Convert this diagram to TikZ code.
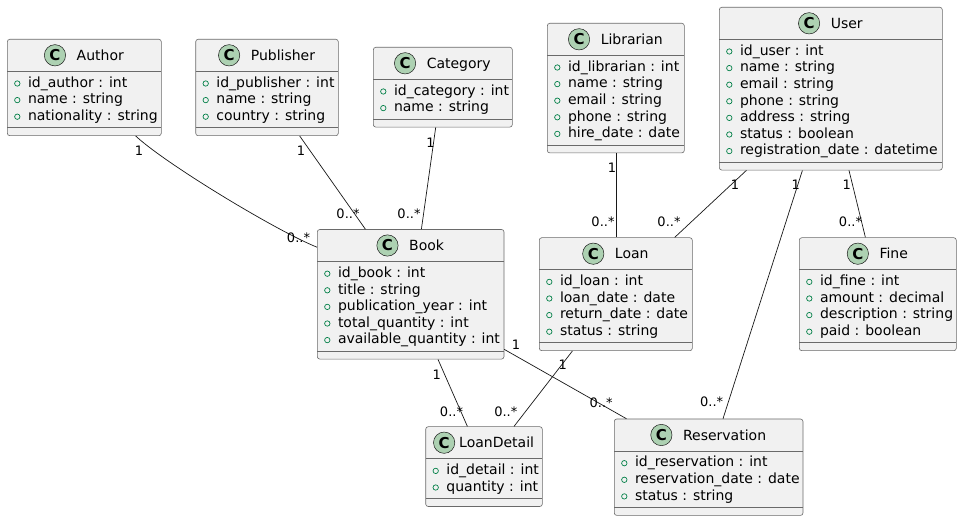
\documentclass[tikz,border=0pt]{standalone}
\usepackage{fontspec}
\setmainfont{DejaVu Sans}
\usetikzlibrary{positioning}
\definecolor{boxfill}{HTML}{F1F1F1}
\definecolor{boxline}{HTML}{181818}
\definecolor{boxedge}{HTML}{6A6A6A}
\definecolor{iconfill}{HTML}{ADD1B2}
\definecolor{fieldmark}{HTML}{038048}
\tikzset{
  classbox/.style={draw=boxedge,fill=boxfill,line width=0.6pt,rounded corners=2.5pt,inner sep=0pt},
  classline/.style={draw=boxedge,line width=0.6pt},
  classname/.style={inner sep=0pt,text height=10.2pt,text depth=0pt,font=\fontsize{14}{16}\selectfont},
  classicon/.style={circle,draw=boxline,fill=iconfill,line width=0.5pt,minimum size=21.3pt,inner sep=0pt,font=\fontsize{15}{15}\selectfont\bfseries},
  attrmark/.style={draw=fieldmark,line width=0.7pt},
  attrtext/.style={anchor=base west,inner sep=0pt,font=\fontsize{14}{16}\selectfont},
  assoc/.style={draw=boxline,line width=0.7pt},
  mult/.style={inner sep=0pt,font=\fontsize{13}{15}\selectfont}
}
% [header gap]{id}{name}{left}{top}{right}{attributes}
\newcommand{\umlclass}[7][10.6]{%
  \foreach \a [count=\k] in {#7} {\xdef\ucount{\k}}%
  \pgfmathsetmacro{\usep}{#5+32}%
  \pgfmathsetmacro{\usepb}{\usep+16.6*\ucount+6.6}%
  \pgfmathsetmacro{\ubot}{\usepb+8}%
  \pgfmathsetmacro{\ucx}{(#4+#6)/2}%
  \pgfmathsetmacro{\ucy}{(#5+\ubot)/2}%
  \pgfmathsetmacro{\uhx}{\ucx+(21.3+#1)/2}%
  \node[classbox,minimum width={#6-#4},minimum height={\ubot-#5}] (#2) at (\ucx,\ucy) {};
  \draw[classline] (#4,\usep) -- (#6,\usep);
  \draw[classline] (#4,\usepb) -- (#6,\usepb);
  \node[classname] (#2-name) at (\uhx,#5+16) {#3};
  \node[classicon,left=#1pt of #2-name] (#2-icon) {C};
  \foreach \a [count=\k] in {#7} {
    \pgfmathsetmacro{\uy}{\usep+16+16.6*(\k-1)}
    \draw[attrmark] (#4+10,\uy-3.8) circle[radius=2.7pt];
    \node[attrtext] (#2-a\k) at (#4+20.5,\uy) {\a};
  }%
}

\begin{document}
\begin{tikzpicture}[x=1pt,y=-1pt]
  \fill[white] (0,0) rectangle (962,521);
  \useasboundingbox (0,0) rectangle (962,521);

  \umlclass{author}{Author}{7.3}{39.3}{161.3}{id\_author : int, name : string, nationality : string}
  \umlclass{publisher}{Publisher}{195.7}{39.3}{338.3}{id\_publisher : int, name : string, country : string}
  \umlclass{category}{Category}{373.3}{47.3}{512.3}{id\_category : int, name : string}
  \umlclass{librarian}{Librarian}{547.3}{23.3}{684.3}{id\_librarian : int, name : string, email : string, phone : string, hire\_date : date}
  \umlclass{user}{User}{719.3}{7.3}{942.3}{id\_user : int, name : string, email : string, phone : string, address : string, status : boolean, registration\_date : datetime}
  \umlclass{book}{Book}{317.3}{229.5}{504}{id\_book : int, title : string, publication\_year : int, total\_quantity : int, available\_quantity : int}
  \umlclass{loan}{Loan}{539.3}{237.7}{692.3}{id\_loan : int, loan\_date : date, return\_date : date, status : string}
  \umlclass{fine}{Fine}{799.3}{237.7}{956.3}{id\_fine : int, amount : decimal, description : string, paid : boolean}
  \umlclass[4]{loandetail}{LoanDetail}{425.7}{426.7}{542.3}{id\_detail : int, quantity : int}
  \umlclass{reservation}{Reservation}{614.3}{419}{803}{id\_reservation : int, reservation\_date : date, status : string}

  % associations
  \draw[assoc] ([xshift=128.7pt]author.south west) .. controls +(30,28) and +(-40,-16) .. ([yshift=-18pt]book.north west);
  \draw[assoc] ([xshift=104.3pt]publisher.south west) -- ([xshift=48.4pt]book.north west);
  \draw[assoc] ([xshift=62.7pt]category.south west) -- ([xshift=104.4pt]book.north west);
  \draw[assoc] ([xshift=69.4pt]librarian.south west) -- ([xshift=77.4pt]loan.north west);
  \draw[assoc] ([xshift=27.4pt]user.south west) -- ([xshift=135.7pt]loan.north west);
  \draw[assoc] ([xshift=83.4pt]user.south west) -- ([xshift=109pt]reservation.north west);
  \draw[assoc] ([xshift=130pt]user.south west) -- ([xshift=66.4pt]fine.north west);
  \draw[assoc] ([xshift=121pt]book.south west) -- ([xshift=42pt]loandetail.north west);
  \draw[assoc] ([xshift=33.4pt]loan.south west) -- ([xshift=88.6pt]loandetail.north west);
  \draw[assoc] ([yshift=10pt]book.south east) -- ([xshift=12.4pt]reservation.north west);

  % multiplicities
  \node[mult] (m-author) at (139,151) {1};
  \node[mult] (m-author-book) at (298.5,237.7) {0..*};
  \node[mult] (m-publisher) at (301,151) {1};
  \node[mult] (m-publisher-book) at (348,213.5) {0..*};
  \node[mult] (m-category) at (430.5,143) {1};
  \node[mult] (m-category-book) at (409,213.5) {0..*};
  \node[mult] (m-librarian) at (612,168) {1};
  \node[mult] (m-librarian-loan) at (603,222) {0..*};
  \node[mult] (m-user-l) at (735,184.7) {1};
  \node[mult] (m-user-loan) at (669,222) {0..*};
  \node[mult] (m-user-r) at (795.7,184.7) {1};
  \node[mult] (m-user-res) at (711.7,402) {0..*};
  \node[mult] (m-user-f) at (846.7,185) {1};
  \node[mult] (m-user-fine) at (850.5,221.7) {0..*};
  \node[mult] (m-book-d) at (436.7,374.3) {1};
  \node[mult] (m-book-detail) at (451.5,411.3) {0..*};
  \node[mult] (m-loan-d) at (562.7,365) {1};
  \node[mult] (m-loan-detail) at (505.8,411.3) {0..*};
  \node[mult] (m-book-r) at (516,344.3) {1};
  \node[mult] (m-book-res) at (601.2,402.3) {0..*};
\end{tikzpicture}
\end{document}
